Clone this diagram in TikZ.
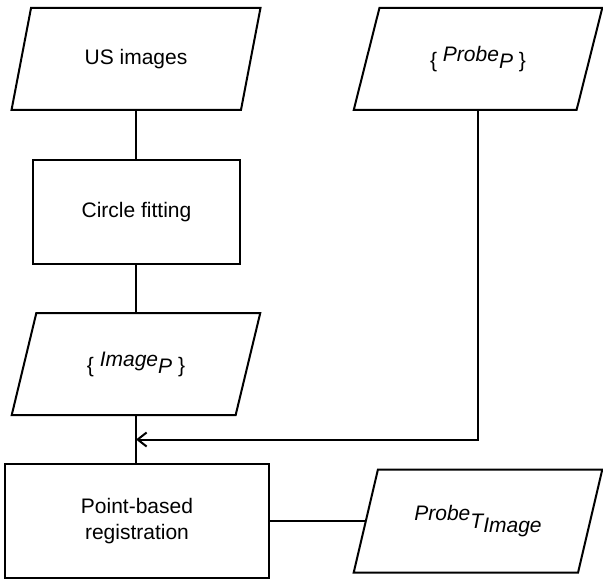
\documentclass[tikz,border=0pt]{standalone}
\usepackage{fontspec}
\setmainfont{Liberation Sans}
\usetikzlibrary{shapes.geometric,arrows.meta,calc}
\begin{document}
\begin{tikzpicture}[x=1pt,y=-1pt,
  line width=2pt,
  every node/.style={font=\fontsize{21}{26}\selectfont},
  para/.style={draw, shape=trapezium, trapezium left angle=64, trapezium right angle=116,
    trapezium stretches=true, minimum width=249pt, minimum height=102pt, inner sep=0pt},
  procbox/.style={draw, rectangle, align=center, inner sep=0pt},
  conn/.style={line width=2pt},
  arr/.style={conn, -{Straight Barb[length=9pt,width=14pt,line width=2pt]}}
]
\useasboundingbox (0,0) rectangle (603,583);
\node[para] (us) at (136,59) {US images};
\node[procbox, minimum width=207pt, minimum height=104pt] (cf) at (136.5,212) {Circle fitting};
\node[para] (img) at (136,364) {\{ \raisebox{6pt}{\itshape Image}\raisebox{-1pt}{\itshape P} \}};
\node[para] (pp) at (478,59) {\{ \raisebox{6pt}{\itshape Probe}\raisebox{-1pt}{\itshape P} \}};
\node[procbox, minimum width=264pt, minimum height=114pt] (reg) at (137,521) {Point-based\\registration};
\node[para, minimum height=103pt] (pt) at (478,521) {\raisebox{4pt}{\itshape Probe}\raisebox{-4pt}{\itshape T}\raisebox{-8pt}{\itshape Image}};
\coordinate (j) at ($(img.south)!0.5!(reg.north -| img.south)$);
\draw[conn] (us.south) -- (us.south |- cf.north);
\draw[conn] (cf.south -| img.north) -- (img.north);
\draw[conn] (img.south) -- (img.south |- reg.north);
\draw[arr] (pp.south) |- (j);
\draw[conn] (reg.east |- pt.west) -- (pt.west);
\end{tikzpicture}
\end{document}
